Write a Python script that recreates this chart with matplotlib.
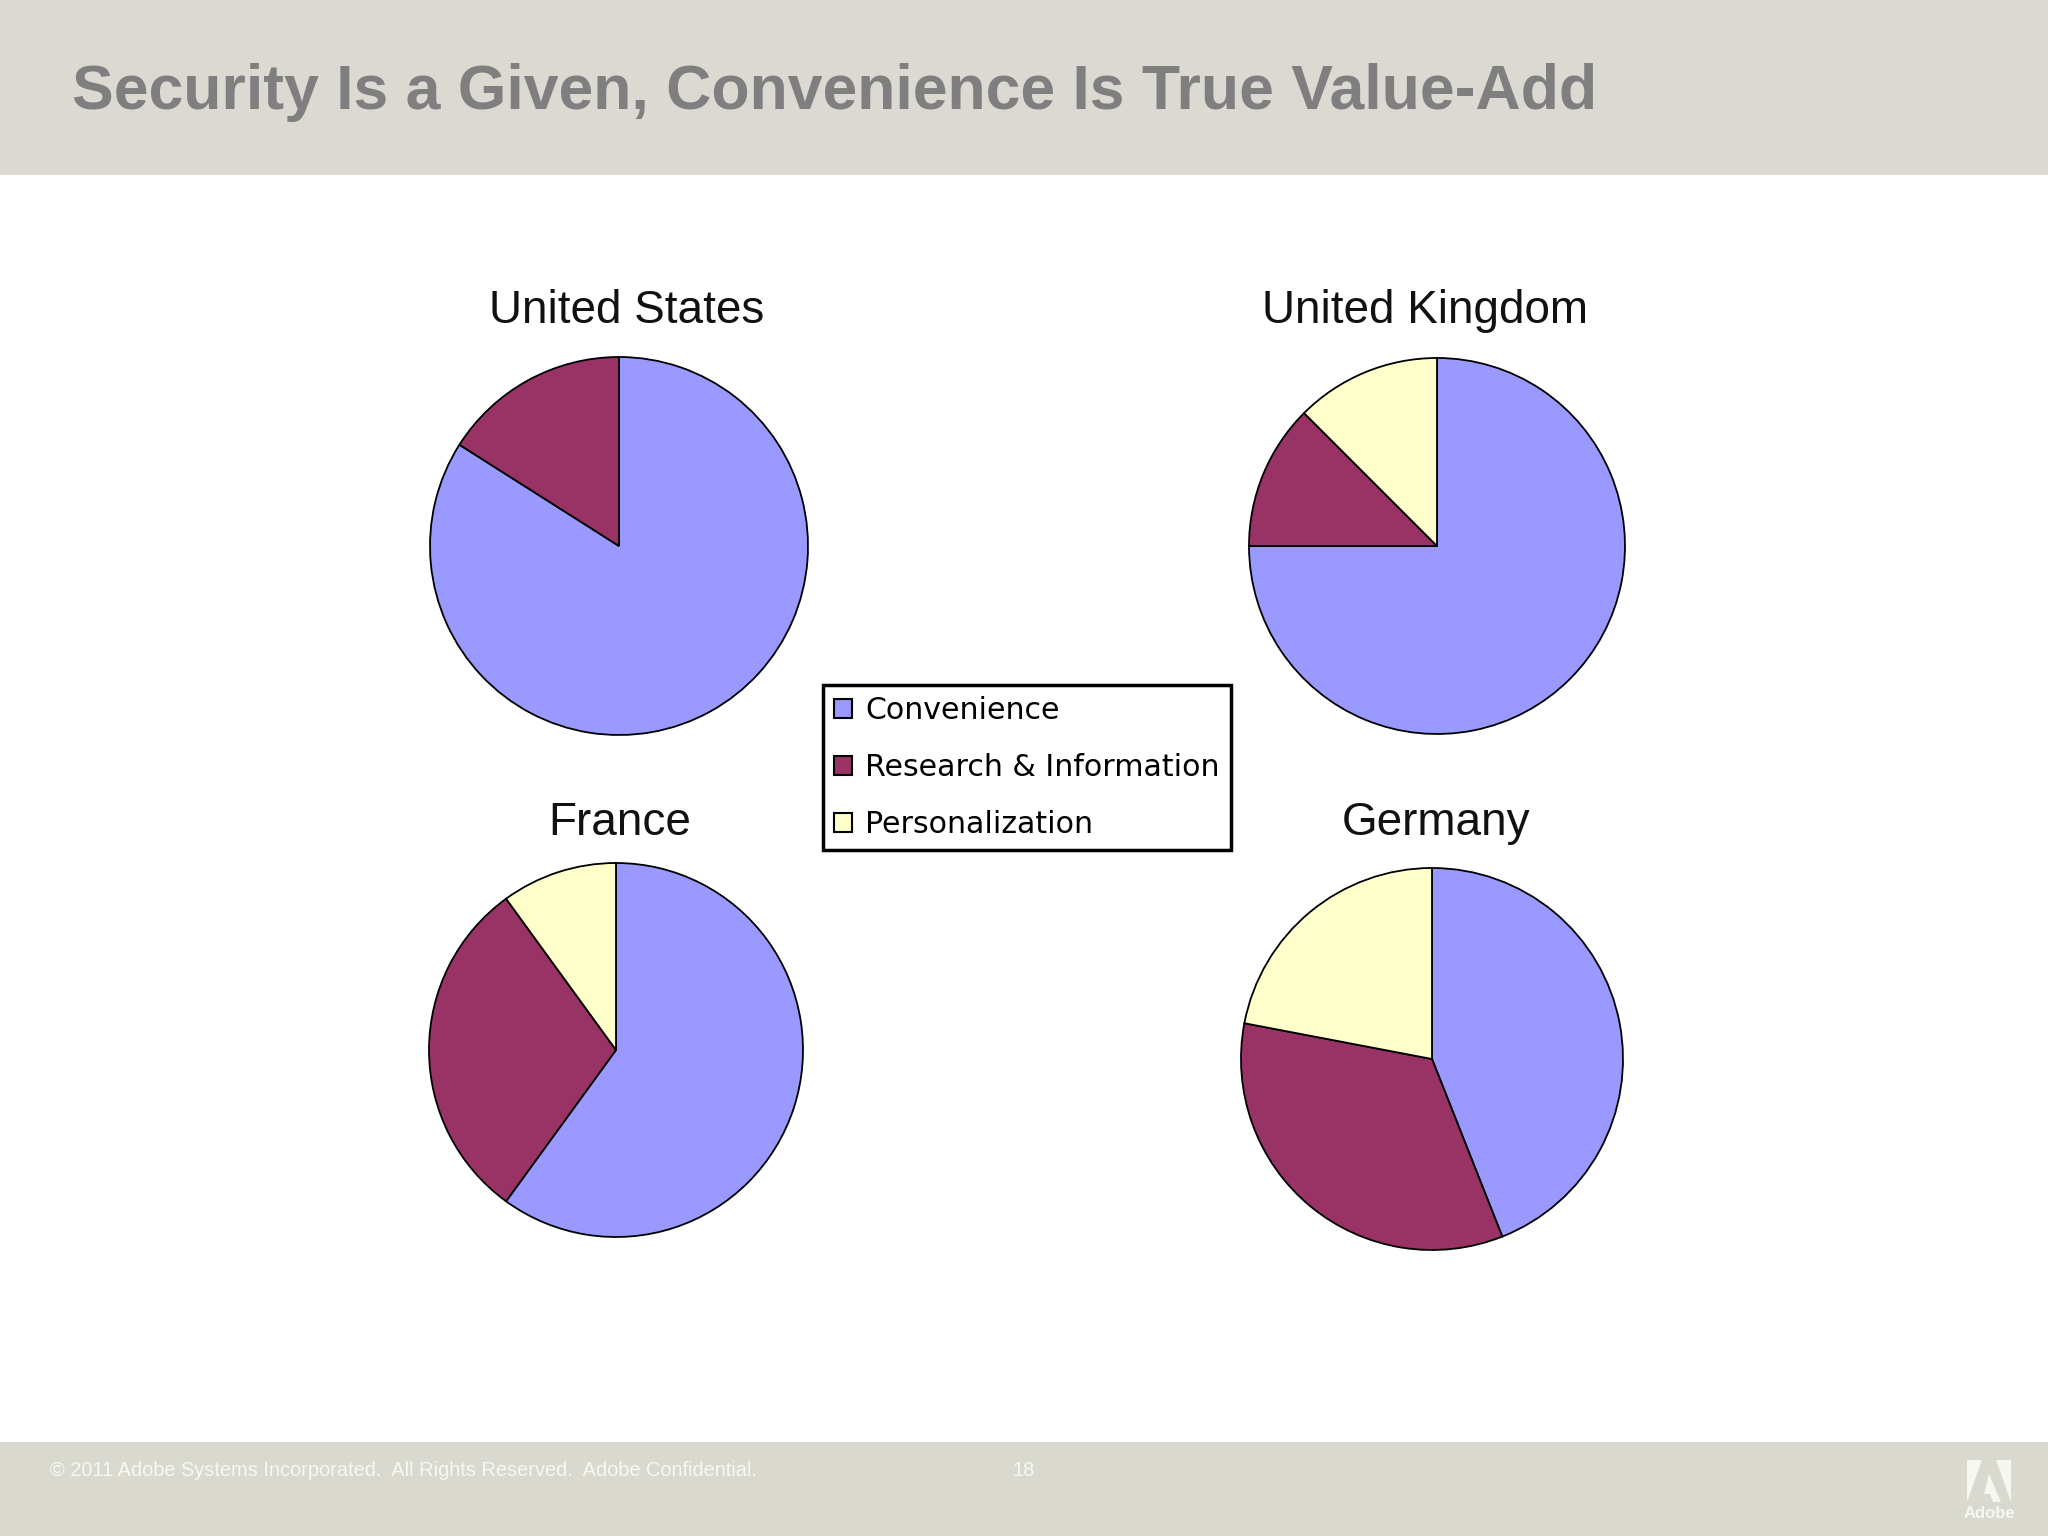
import matplotlib
matplotlib.use('Agg')
import matplotlib.pyplot as plt
from matplotlib.patches import Rectangle, Polygon, Patch

# data (percent)
countries = ['United States', 'United Kingdom', 'France', 'Germany']
categories = ['Convenience', 'Research & Information', 'Personalization']
convenience = [84, 75, 60, 44]
research = [16, 12.5, 30, 34]
personalization = [0, 12.5, 10, 22]
colors = ['#9999FF', '#993366', '#FFFFCC']

title = 'Security Is a Given, Convenience Is True Value-Add'
footer = '\u00a9 2011 Adobe Systems Incorporated.  All Rights Reserved.  Adobe Confidential.'
page_no = '18'

W, H = 2048, 1536
fig = plt.figure(figsize=(W / 100, H / 100), dpi=100)
fig.patch.set_facecolor('white')

# background axes in pixel coordinates
bg = fig.add_axes([0, 0, 1, 1])
bg.set_xlim(0, W)
bg.set_ylim(H, 0)
bg.axis('off')

bg.add_patch(Rectangle((0, 0), W, 175, color='#DCD9D2', lw=0))
bg.add_patch(Rectangle((0, 1442), W, H - 1442, color='#D9D9D0', lw=0))
bg.text(72, 93, title, fontsize=45, fontweight='bold', color='#7F7F7F',
        family='Liberation Sans', va='center', ha='left')
bg.text(50, 1470, footer, fontsize=14.4, color='#F7F7F4',
        family='Liberation Sans', va='center', ha='left')
bg.text(1024, 1470, page_no, fontsize=14.4, color='#F7F7F4',
        family='Liberation Sans', va='center', ha='center')

# simplified Adobe logo
logo = '#F7F7F2'
bg.add_patch(Polygon([(1967, 1460), (1982, 1460), (1967, 1502)], color=logo, lw=0))
bg.add_patch(Polygon([(1996, 1460), (2011, 1460), (2011, 1502)], color=logo, lw=0))
bg.add_patch(Polygon([(1989, 1474), (2001, 1502), (1993, 1502), (1990, 1494),
                      (1984, 1494)], color=logo, lw=0))
bg.text(1989, 1513, 'Adobe', fontsize=12, fontweight='bold', color=logo,
        family='Liberation Sans', va='center', ha='center')

# pie positions: center x, center y, radius, title x, title y (pixels)
layout = [(619, 546, 189, 627, 311), (1437, 546, 188, 1425, 311),
          (616, 1050, 187, 620, 823), (1432, 1059, 191, 1436, 823)]

for i, name in enumerate(countries):
    cx, cy, r, tx, ty = layout[i]
    vals = [convenience[i], research[i], personalization[i]]
    keep = [k for k, v in enumerate(vals) if v > 0]
    m = 1.04
    ax = fig.add_axes([(cx - r * m) / W, 1 - (cy + r * m) / H, 2 * r * m / W, 2 * r * m / H])
    ax.pie([vals[k] for k in keep], colors=[colors[k] for k in keep],
           startangle=90, counterclock=False,
           wedgeprops=dict(edgecolor='black', linewidth=1.3))
    ax.set_xlim(-m, m)
    ax.set_ylim(-m, m)
    bg.text(tx, ty, name, fontsize=33, color='#111111',
            family='Liberation Sans', va='center', ha='center')

handles = [Patch(facecolor=c, edgecolor='black', linewidth=1.5) for c in colors]
leg = fig.legend(handles, categories, loc='upper left',
                 bbox_to_anchor=(823 / W, 1 - 685 / H), borderaxespad=0,
                 fancybox=False, edgecolor='black', framealpha=1,
                 prop={'family': 'DejaVu Sans', 'size': 21.6},
                 handlelength=0.6, handleheight=0.6, handletextpad=0.42,
                 labelspacing=0.92, borderpad=0.38)
leg.get_frame().set_linewidth(2.5)

fig.savefig('out.png', dpi=100)
